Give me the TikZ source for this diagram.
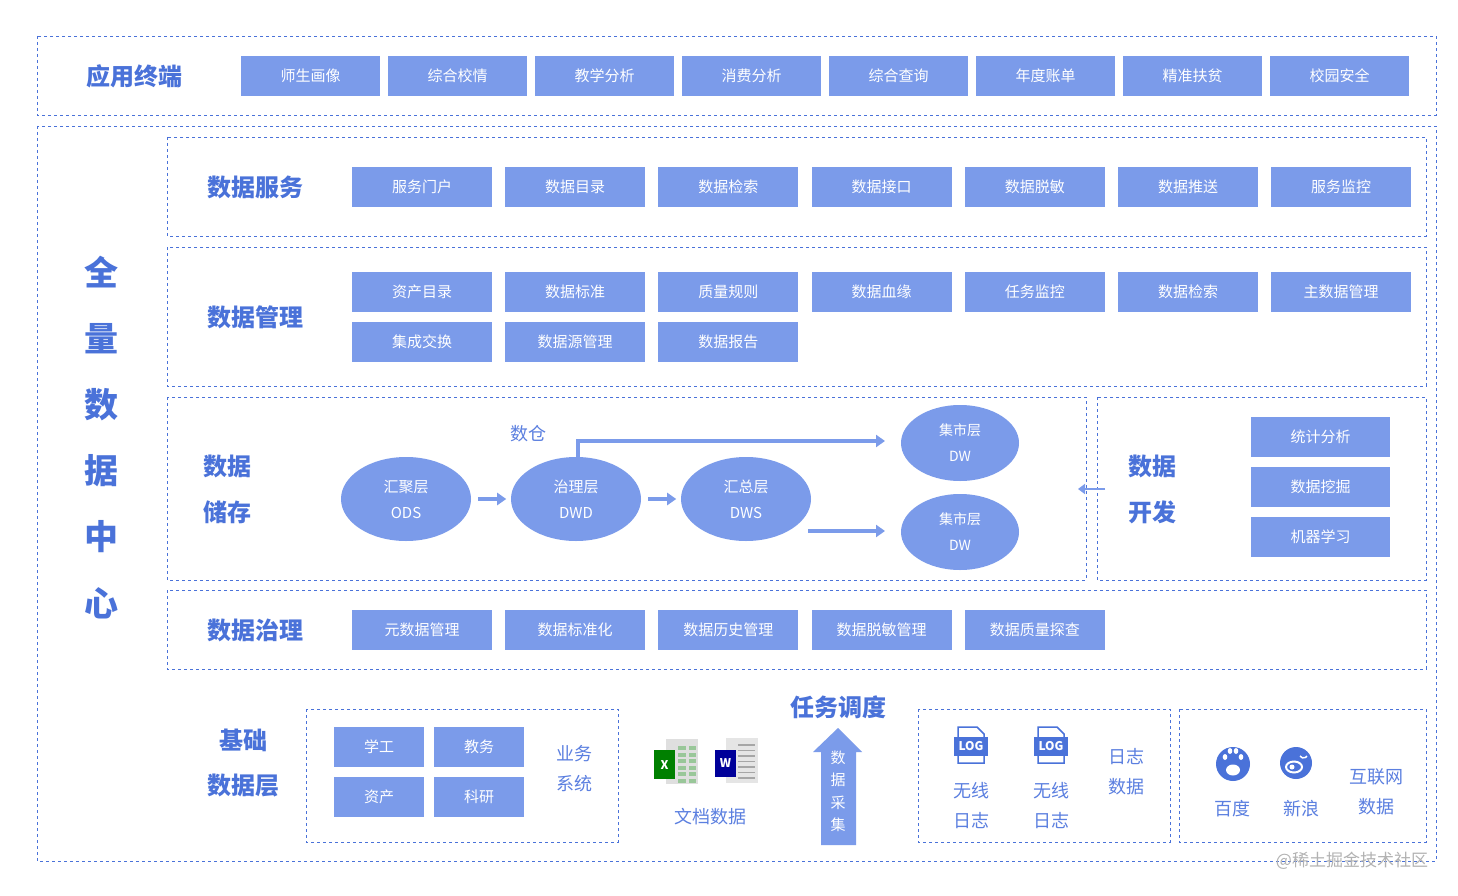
\documentclass[tikz,border=0pt]{standalone}
\usepackage{fontspec}
\setmainfont{Noto Sans CJK SC}
\usetikzlibrary{arrows.meta,shapes.geometric}
\definecolor{bx}{HTML}{7B9BEA}
\definecolor{tb}{HTML}{4A72D9}
\definecolor{lb}{HTML}{5B7FE0}
\begin{document}
\begin{tikzpicture}[x=1pt,y=-1pt,
 dbox/.style={draw=tb,dashed,line width=0.8pt},
 btn/.style={fill=bx,draw=none,text=white,minimum width=140pt,minimum height=40pt,font=\fontsize{15}{15}\selectfont,inner sep=0pt},
 sbtn/.style={btn,minimum width=90pt},
 ttl/.style={text=tb,font=\fontsize{24}{24}\selectfont\bfseries},
 lbl/.style={text=lb,font=\fontsize{18}{18}\selectfont},
 ell/.style={ellipse,fill=bx,text=white,minimum width=130pt,minimum height=84pt,align=center,font=\fontsize{15}{26}\selectfont,inner sep=0pt},
 sell/.style={ell,minimum width=118pt,minimum height=76pt,font=\fontsize{14}{26}\selectfont},
 arr/.style={draw=bx,line width=3.5pt,-{Triangle[length=9pt,width=12pt]}}]
\useasboundingbox (0,0) rectangle (1458,896);
\fill[white] (0,0) rectangle (1458,896);
% top
\draw[dbox] (37,36) rectangle (1436,115);
\node[ttl] (t0) at (134,76) {应用终端};
\foreach \t [count=\i from 0] in {师生画像,综合校情,教学分析,消费分析,综合查询,年度账单,精准扶贫,校园安全}
 \node[btn,minimum width=139pt] (a\i) at ({310.5+147*\i},76) {\t};
% big
\draw[dbox] (37,126) rectangle (1436,861);
\foreach \t [count=\i from 0] in {全,量,数,据,中,心}
 \node[text=tb,font=\fontsize{34}{34}\selectfont\bfseries] (v\i) at (101,{272+66.2*\i}) {\t};
% service
\draw[dbox] (167,137) rectangle (1426,236);
\node[ttl] (t1) at (255,187) {数据服务};
\foreach \t [count=\i from 0] in {服务门户,数据目录,数据检索,数据接口,数据脱敏,数据推送,服务监控}
 \node[btn] (s\i) at ({422+153.2*\i},187) {\t};
% management
\draw[dbox] (167,247) rectangle (1426,386);
\node[ttl] (t2) at (255,317) {数据管理};
\foreach \t [count=\i from 0] in {资产目录,数据标准,质量规则,数据血缘,任务监控,数据检索,主数据管理}
 \node[btn] (m\i) at ({422+153.2*\i},292) {\t};
\foreach \t [count=\i from 0] in {集成交换,数据源管理,数据报告}
 \node[btn] (n\i) at ({422+153.2*\i},342) {\t};
% storage
\draw[dbox] (167,397) rectangle (1086,580);
\node[ttl] (t3a) at (227,466) {数据};
\node[ttl] (t3b) at (227,512) {储存};
\node[ell] (ods) at (406,499) {汇聚层\\ODS};
\node[ell] (dwd) at (576,499) {治理层\\DWD};
\node[ell] (dws) at (746,499) {汇总层\\DWS};
\node[sell] (dw1) at (960,443) {集市层\\DW};
\node[sell] (dw2) at (960,532) {集市层\\DW};
\node[lbl] (sc) at (528,434) {数仓};
\draw[arr] (ods.east)++(7,0) -- ++(28,0);
\draw[arr] (dwd.east)++(7,0) -- ++(28,0);
\coordinate (c1) at (885,441);
\coordinate (c2) at (885,531);
\coordinate (c3) at (808,531);
\draw[arr,-{Triangle[length=9pt,width=12pt]}] (578,458) -- (578,441) -- (c1);
\draw[arr] (c3) -- (c2);
% develop
\draw[dbox] (1097,397) rectangle (1426,580);
\node[ttl] (t4a) at (1152,466) {数据};
\node[ttl] (t4b) at (1152,512) {开发};
\foreach \t [count=\i from 0] in {统计分析,数据挖掘,机器学习}
 \node[btn,minimum width=139pt] (d\i) at (1320.5,{437+50*\i}) {\t};
\coordinate (e1) at (1105,489);
\coordinate (e2) at (1078,489);
\draw[draw=bx,line width=2pt,-{Triangle[length=7pt,width=10pt]}] (e1) -- (e2);
% governance
\draw[dbox] (167,590) rectangle (1426,669);
\node[ttl] (t5) at (255,630) {数据治理};
\foreach \t [count=\i from 0] in {元数据管理,数据标准化,数据历史管理,数据脱敏管理,数据质量探查}
 \node[btn] (g\i) at ({422+153.2*\i},630) {\t};
% base
\node[ttl] (t6a) at (243,740) {基础};
\node[ttl] (t6b) at (243,786) {数据层};
\draw[dbox] (306,709) rectangle (618,842);
\node[sbtn] (b1) at (379,747) {学工};
\node[sbtn] (b2) at (479,747) {教务};
\node[sbtn] (b3) at (379,797) {资产};
\node[sbtn] (b4) at (479,797) {科研};
\node[lbl] (y1) at (574,754) {业务};
\node[lbl] (y2) at (574,784) {系统};
% excel/word icons
\fill[gray!25] (666,739) rectangle (698,784);
\foreach \r in {0,...,5}{\fill[green!45!black!40] (678,{746+6.5*\r}) rectangle (686,{750+6.5*\r});\fill[green!45!black!40] (689,{746+6.5*\r}) rectangle (696,{750+6.5*\r});}
\fill[green!50!black] (654,750) rectangle (675,779);
\node[text=white,font=\bfseries\fontsize{12}{12}\selectfont] (xl) at (664.5,765) {X};
\fill[gray!20] (726,738) rectangle (758,783);
\foreach \r in {0,...,6}\draw[gray!70,line width=1.2pt] (738,{745+5.5*\r}) -- (755,{745+5.5*\r});
\fill[blue!60!black] (715,750) rectangle (736,777);
\node[text=white,font=\bfseries\fontsize{12}{12}\selectfont] (wd) at (725.5,763.5) {W};
\node[lbl] (wdt) at (710,817) {文档数据};
% task arrow
\node[ttl] (t7) at (838,707) {任务调度};
\fill[bx] (821,845) -- (821,752) -- (813,752) -- (838,728) -- (862,752) -- (856,752) -- (856,845) -- cycle;
\foreach \t [count=\i from 0] in {数,据,采,集}
 \node[text=white,font=\fontsize{15}{15}\selectfont] (k\i) at (838,{758+22.3*\i}) {\t};
% logs
\draw[dbox] (918,709) rectangle (1170,842);
\foreach \x [count=\i] in {971,1051}{
 \draw[tb,line width=1.5pt] (\x-13,727) -- (\x+6,727) -- (\x+13,734) -- (\x+13,763) -- (\x-13,763) -- cycle;
 \fill[tb] (\x-17,737) rectangle (\x+17,756);
 \node[text=white,font=\bfseries\fontsize{12}{12}\selectfont] (lg\i) at (\x,746.5) {LOG};
 \node[lbl] (w\i) at (\x,791) {无线};
 \node[lbl] (r\i) at (\x,821) {日志};
}
\node[lbl] (rz1) at (1126,757) {日志};
\node[lbl] (rz2) at (1126,787) {数据};
% internet
\draw[dbox] (1179,709) rectangle (1426,842);
\fill[tb] (1233,764) circle (17);
\fill[white] (1233,770) ellipse (7 and 5.5);
\foreach \a/\b in {1225/757,1230/751,1236/751,1241/757} \fill[white] (\a,\b) ellipse (2.3 and 3);
\fill[tb] (1296,763) circle (16);
\draw[white,line width=2pt] (1294,767) ellipse (8 and 5.5);
\fill[white] (1292,767) circle (2.5);
\draw[white,line width=1.5pt] (1300,756) arc (150:30:4);
\node[lbl] (bd) at (1232,809) {百度};
\node[lbl] (xl2) at (1301,809) {新浪};
\node[lbl] (hl1) at (1376,777) {互联网};
\node[lbl] (hl2) at (1376,807) {数据};
\node[text=gray!60,font=\fontsize{17}{17}\selectfont] (wm) at (1352,861) {@稀土掘金技术社区};
\end{tikzpicture}
\end{document}
